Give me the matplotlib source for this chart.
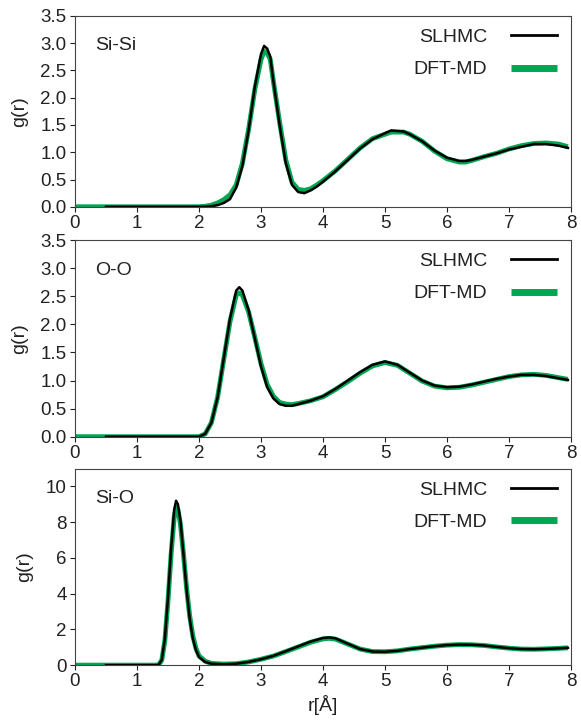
import matplotlib
matplotlib.use("Agg")
import matplotlib.pyplot as plt

plt.rcParams['font.family'] = ['Liberation Sans', 'DejaVu Sans']

# ---- Si-Si ----
r_sisi = [0.5, 1.0, 1.5, 2.0, 2.1, 2.2, 2.3, 2.4, 2.5, 2.6, 2.7, 2.8, 2.9, 3.0, 3.05,
          3.1, 3.15, 3.2, 3.3, 3.4, 3.5, 3.6, 3.7, 3.8, 3.9, 4.0, 4.2, 4.4, 4.6, 4.8,
          5.0, 5.1, 5.2, 5.3, 5.4, 5.6, 5.8, 6.0, 6.2, 6.3, 6.4, 6.6, 6.8, 7.0, 7.2,
          7.4, 7.6, 7.8, 7.95]
g_sisi_slhmc = [0.0, 0.0, 0.0, 0.0, 0.0, 0.01, 0.03, 0.07, 0.14, 0.35, 0.75, 1.4, 2.2, 2.8, 2.95,
                2.9, 2.75, 2.3, 1.5, 0.8, 0.4, 0.27, 0.25, 0.3, 0.37, 0.46, 0.65, 0.86, 1.07, 1.24,
                1.35, 1.4, 1.39, 1.38, 1.33, 1.2, 1.03, 0.9, 0.84, 0.84, 0.86, 0.92, 0.98, 1.05, 1.1,
                1.15, 1.15, 1.12, 1.08]
r_sisi_dft = [0.0] + r_sisi
g_sisi_dft = [0.0, 0.0, 0.0, 0.0, 0.0, 0.01, 0.03, 0.07, 0.13, 0.22, 0.4, 0.8, 1.42, 2.15, 2.7, 2.85,
              2.82, 2.7, 2.3, 1.55, 0.86, 0.45, 0.32, 0.3, 0.33, 0.4, 0.48, 0.66, 0.87, 1.08, 1.25,
              1.33, 1.37, 1.37, 1.37, 1.33, 1.2, 1.02, 0.88, 0.82, 0.82, 0.85, 0.92, 0.98, 1.06, 1.12,
              1.16, 1.17, 1.15, 1.1]

# ---- O-O ----
r_oo = [0.5, 1.0, 1.5, 1.9, 2.0, 2.1, 2.2, 2.3, 2.4, 2.5, 2.6, 2.65, 2.7, 2.8, 2.9,
        3.0, 3.1, 3.2, 3.3, 3.4, 3.5, 3.6, 3.8, 4.0, 4.2, 4.4, 4.6, 4.8, 5.0, 5.2,
        5.4, 5.6, 5.8, 6.0, 6.2, 6.4, 6.6, 6.8, 7.0, 7.2, 7.4, 7.6, 7.8, 7.95]
g_oo_slhmc = [0.0, 0.0, 0.0, 0.0, 0.0, 0.05, 0.25, 0.7, 1.4, 2.1, 2.6, 2.66, 2.6, 2.25, 1.75,
              1.25, 0.88, 0.68, 0.58, 0.55, 0.55, 0.58, 0.64, 0.72, 0.85, 1.0, 1.15, 1.28, 1.34, 1.28,
              1.14, 1.0, 0.91, 0.88, 0.89, 0.93, 0.98, 1.03, 1.07, 1.1, 1.1, 1.08, 1.04, 1.01]
r_oo_dft = [0.0] + r_oo
g_oo_dft = [0.0, 0.0, 0.0, 0.0, 0.0, 0.0, 0.05, 0.25, 0.7, 1.38, 2.05, 2.52, 2.56, 2.52, 2.22, 1.77,
            1.3, 0.93, 0.72, 0.61, 0.58, 0.57, 0.59, 0.64, 0.71, 0.84, 0.98, 1.13, 1.26, 1.32, 1.27,
            1.13, 0.99, 0.9, 0.87, 0.88, 0.92, 0.97, 1.02, 1.07, 1.1, 1.11, 1.09, 1.05, 1.02]

# ---- Si-O ----
r_sio = [0.5, 1.0, 1.3, 1.35, 1.4, 1.45, 1.5, 1.55, 1.6, 1.63, 1.66, 1.7, 1.75, 1.8, 1.85,
         1.9, 1.95, 2.0, 2.1, 2.2, 2.4, 2.6, 2.8, 3.0, 3.2, 3.4, 3.6, 3.8, 4.0, 4.1,
         4.2, 4.4, 4.6, 4.8, 5.0, 5.2, 5.4, 5.6, 5.8, 6.0, 6.2, 6.4, 6.6, 6.8, 7.0,
         7.2, 7.4, 7.6, 7.8, 7.95]
g_sio_slhmc = [0.0, 0.0, 0.0, 0.02, 0.3, 1.5, 3.8, 6.5, 8.7, 9.2, 9.0, 8.1, 6.2, 4.2, 2.6,
               1.5, 0.85, 0.45, 0.18, 0.08, 0.05, 0.08, 0.18, 0.33, 0.52, 0.78, 1.05, 1.32, 1.52, 1.55,
               1.5, 1.2, 0.9, 0.76, 0.75, 0.8, 0.9, 0.98, 1.06, 1.12, 1.15, 1.14, 1.1, 1.02, 0.95,
               0.9, 0.89, 0.91, 0.94, 0.97]
r_sio_dft = [0.0] + r_sio
g_sio_dft = [0.0, 0.0, 0.0, 0.0, 0.02, 0.28, 1.4, 3.6, 6.2, 8.3, 8.8, 8.7, 7.9, 6.2, 4.3, 2.75,
             1.65, 0.95, 0.52, 0.22, 0.1, 0.06, 0.08, 0.18, 0.33, 0.51, 0.76, 1.02, 1.28, 1.47, 1.5,
             1.46, 1.18, 0.9, 0.76, 0.75, 0.8, 0.9, 0.98, 1.06, 1.12, 1.15, 1.14, 1.1, 1.02, 0.95,
             0.9, 0.89, 0.91, 0.94, 0.97]

panels = [
    ("Si-Si", r_sisi_dft, g_sisi_dft, r_sisi, g_sisi_slhmc, 3.5, [0, 0.5, 1.0, 1.5, 2.0, 2.5, 3.0, 3.5]),
    ("O-O", r_oo_dft, g_oo_dft, r_oo, g_oo_slhmc, 3.5, [0, 0.5, 1.0, 1.5, 2.0, 2.5, 3.0, 3.5]),
    ("Si-O", r_sio_dft, g_sio_dft, r_sio, g_sio_slhmc, 11, [0, 2, 4, 6, 8, 10]),
]

green = '#00a651'
text_col = '#222222'

fig = plt.figure(figsize=(5.81, 7.23), dpi=100)
boxes = [(0.714, 0.978), (0.396, 0.668), (0.080, 0.352)]
left, right = 75 / 581, 571 / 581

for (name, rd, gd, rs, gs, ymax, yt), (b, t) in zip(panels, boxes):
    ax = fig.add_axes([left, b, right - left, t - b])
    ax.plot(rd, gd, color=green, lw=3.5, label='DFT-MD', solid_capstyle='butt')
    ax.plot(rs, gs, color='black', lw=1.8, label='SLHMC')
    ax.set_xlim(0, 8)
    ax.set_ylim(0, ymax)
    ax.set_xticks(range(9))
    ax.set_yticks(yt)
    if ymax < 5:
        ax.set_yticklabels([f"{v:.1f}" for v in yt])
    ax.tick_params(direction='out', length=3.5, width=0.8, labelsize=13.5,
                   colors=text_col, pad=2.5)
    for s in ax.spines.values():
        s.set_color('#444444')
        s.set_linewidth(0.8)
    ax.set_ylabel('g(r)', fontsize=14, color=text_col, labelpad=9)
    ax.text(0.04, 0.845, name, transform=ax.transAxes, fontsize=14, color=text_col,
            va='center', ha='left')
    h, l = ax.get_legend_handles_labels()
    leg = ax.legend(h[::-1], l[::-1], loc='upper right', frameon=False, markerfirst=False,
                    fontsize=14, handlelength=2.4, labelspacing=0.75, borderaxespad=0.3,
                    handletextpad=1.2, bbox_to_anchor=(1.0, 1.005))
    for txt in leg.get_texts():
        txt.set_color(text_col)
    leg.get_lines()[1].set_linewidth(5)
    leg.get_lines()[0].set_linewidth(2)

ax.set_xlabel('r[Å]', fontsize=14, color=text_col, labelpad=3)

fig.savefig('out.png', dpi=100)
